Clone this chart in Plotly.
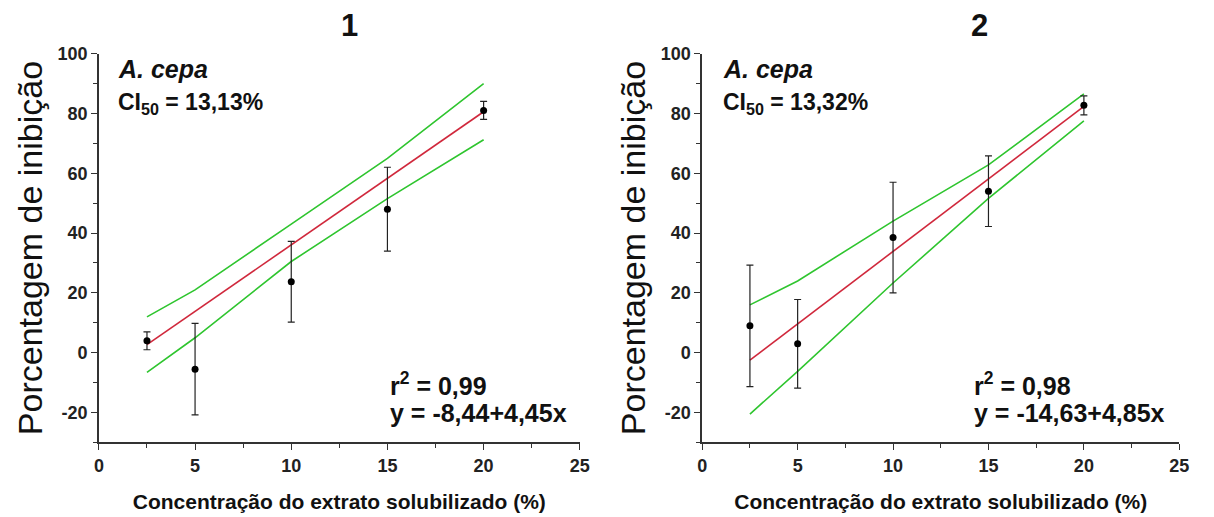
import plotly.graph_objects as go

# ---- data ----
conc = [2.5, 5, 10, 15, 20]

p1_mean = [4.0, -5.5, 23.7, 48.0, 81.0]
p1_err = [3.0, 15.3, 13.5, 14.0, 3.0]
p1_intercept, p1_slope = -8.44, 4.45
p1_upper = [12.0, 21.0, 43.0, 65.0, 90.0]
p1_lower = [-6.6, 5.0, 30.5, 51.5, 71.2]

p2_mean = [9.0, 3.0, 38.5, 54.0, 82.7]
p2_err = [20.3, 14.8, 18.5, 11.8, 3.2]
p2_intercept, p2_slope = -14.63, 4.85
p2_upper = [16.0, 24.0, 44.0, 62.8, 86.5]
p2_lower = [-20.5, -6.2, 23.3, 51.6, 77.5]

x_tickvals = [0, 5, 10, 15, 20, 25]
x_ticklabels = ["0", "5", "10", "15", "20", "25"]
y_tickvals = [-20, 0, 20, 40, 60, 80, 100]
y_ticklabels = ["-20", "0", "20", "40", "60", "80", "100"]

panel_titles = ["1", "2"]
ci50_labels = ["13,13%", "13,32%"]
r2_labels = ["0,99", "0,98"]
eq_labels = ["y = -8,44+4,45x", "y = -14,63+4,85x"]

FONT = "Liberation Sans, Arial, sans-serif"

fig = go.Figure()

panels = [
    (p1_mean, p1_err, p1_intercept, p1_slope, p1_upper, p1_lower),
    (p2_mean, p2_err, p2_intercept, p2_slope, p2_upper, p2_lower),
]
axes = [("x", "y"), ("x2", "y2")]

for i, (mean, err, b0, b1, up, lo) in enumerate(panels):
    xa, ya = axes[i]
    fit = [b0 + b1 * c for c in conc]
    fig.add_trace(go.Scatter(x=conc, y=up, mode="lines", line=dict(color="#2fc52f", width=1.6),
                             xaxis=xa, yaxis=ya, showlegend=False, hoverinfo="skip"))
    fig.add_trace(go.Scatter(x=conc, y=lo, mode="lines", line=dict(color="#2fc52f", width=1.6),
                             xaxis=xa, yaxis=ya, showlegend=False, hoverinfo="skip"))
    fig.add_trace(go.Scatter(x=[conc[0], conc[-1]], y=[fit[0], fit[-1]], mode="lines",
                             line=dict(color="#d0283c", width=1.6),
                             xaxis=xa, yaxis=ya, showlegend=False))
    fig.add_trace(go.Scatter(x=conc, y=mean, mode="markers",
                             marker=dict(color="black", size=7),
                             error_y=dict(type="data", array=err, visible=True, color="#222222",
                                          thickness=1.2, width=3.5),
                             xaxis=xa, yaxis=ya, showlegend=False))

dom_x = [[0.0783, 0.4794], [0.5815, 0.9794]]
ydom = [0.147, 0.914]

for i in range(2):
    sfx = "" if i == 0 else str(i + 1)
    fig.update_layout(**{
        "xaxis" + sfx: dict(domain=dom_x[i], range=[0, 25], anchor="y" + sfx),
        "yaxis" + sfx: dict(domain=ydom, range=[-30, 100], anchor="x" + sfx),
    })

common = dict(showgrid=False, zeroline=False, showline=True, linecolor="#333333", linewidth=1.6,
              ticks="outside", ticklen=6, tickwidth=1.4, tickcolor="#333333")

fig.update_xaxes(**common, tickvals=x_tickvals, ticktext=["<b>%s</b>" % t for t in x_ticklabels],
                 tickfont=dict(family=FONT, size=18, color="#222222"),
                 minor=dict(ticks="outside", dtick=2.5, tick0=0, ticklen=4, tickwidth=1.3,
                            tickcolor="#333333"),
                 title=dict(text="<b>Concentração do extrato solubilizado (%)</b>",
                            font=dict(family=FONT, size=21, color="#111111"), standoff=19))
fig.update_yaxes(**common, tickvals=y_tickvals, ticktext=["<b>%s</b>" % t for t in y_ticklabels],
                 tickfont=dict(family=FONT, size=18, color="#222222"),
                 minor=dict(ticks="outside", dtick=10, tick0=0, ticklen=4, tickwidth=1.3,
                            tickcolor="#333333"),
                 title=dict(text="Porcentagem de inibição",
                            font=dict(family=FONT, size=34, color="#111111"), standoff=5))

annotations = []
title_x = [349, 987]
left_x = [0.9, 1.0]
r2_x = [15.05, 14.15]
for i in range(2):
    xa, ya = axes[i]
    annotations.append(dict(text="<b>%s</b>" % panel_titles[i], xref="paper", yref="paper",
                            x=title_x[i] / 1214, y=1 - 16 / 517, xanchor="center", yanchor="middle",
                            showarrow=False, font=dict(family=FONT, size=31, color="#111111")))
    annotations.append(dict(text="<b><i>A. cepa</i></b>", xref=xa, yref=ya, x=left_x[i], y=95.0,
                            xanchor="left", yanchor="middle", showarrow=False,
                            font=dict(family=FONT, size=25, color="#111111")))
    annotations.append(dict(text="<b>CI<sub>50</sub> = %s</b>" % ci50_labels[i], xref=xa, yref=ya,
                            x=left_x[i], y=83.3, xanchor="left", yanchor="middle", showarrow=False,
                            font=dict(family=FONT, size=23, color="#111111")))
    annotations.append(dict(text="<b>r<sup>2</sup> = %s</b>" % r2_labels[i], xref=xa, yref=ya,
                            x=r2_x[i], y=-10.5, xanchor="left", yanchor="middle", showarrow=False,
                            font=dict(family=FONT, size=25, color="#111111")))
    annotations.append(dict(text="<b>%s</b>" % eq_labels[i], xref=xa, yref=ya,
                            x=r2_x[i], y=-20.0, xanchor="left", yanchor="middle", showarrow=False,
                            font=dict(family=FONT, size=25, color="#111111")))

fig.update_layout(
    width=1214, height=517, margin=dict(l=0, r=0, t=0, b=0),
    paper_bgcolor="white", plot_bgcolor="white",
    annotations=annotations, showlegend=False,
)

fig.write_html("out.html")
